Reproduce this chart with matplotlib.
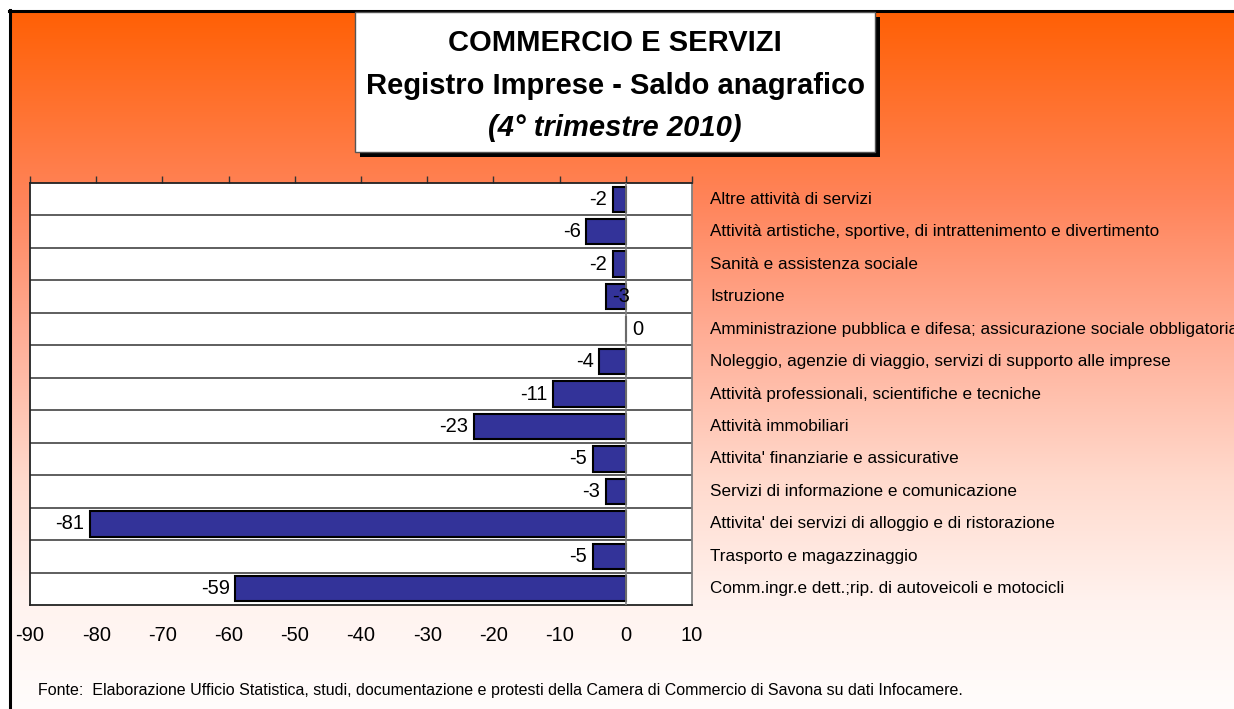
import numpy as np
import matplotlib.pyplot as plt
from matplotlib.patches import Rectangle

plt.rcParams['font.family'] = ['Liberation Sans', 'DejaVu Sans']

# dati: saldo anagrafico 4° trimestre 2010
settori = [
    "Altre attività di servizi",
    "Attività artistiche, sportive, di intrattenimento e divertimento",
    "Sanità e assistenza sociale",
    "Istruzione",
    "Amministrazione pubblica e difesa; assicurazione sociale obbligatoria",
    "Noleggio, agenzie di viaggio, servizi di supporto alle imprese",
    "Attività professionali, scientifiche e tecniche",
    "Attività immobiliari",
    "Attivita' finanziarie e assicurative",
    "Servizi di informazione e comunicazione",
    "Attivita' dei servizi di alloggio e di ristorazione",
    "Trasporto e magazzinaggio",
    "Comm.ingr.e dett.;rip. di autoveicoli e motocicli",
]
saldo = [-2, -6, -2, -3, 0, -4, -11, -23, -5, -3, -81, -5, -59]
ticks_x = [-90, -80, -70, -60, -50, -40, -30, -20, -10, 0, 10]

W, H = 1234, 709
fig = plt.figure(figsize=(W / 100, H / 100), dpi=100)
fig.patch.set_facecolor('white')

def fx(x):
    return x / W

def fy(y):
    return 1 - y / H

# sfondo sfumato arancione -> bianco
bg = fig.add_axes([fx(11), 0, 1 - fx(11), fy(12)])
bg.set_axis_off()
rows = np.arange(12, H)
stop_y = [12, 200, 330, 480, 600, 709]
stop_c = np.array([[255, 96, 5], [255, 132, 90], [255, 172, 148],
                   [255, 218, 205], [255, 242, 238], [255, 253, 252]]) / 255
grad = np.stack([np.interp(rows, stop_y, stop_c[:, k]) for k in range(3)], axis=1)
bg.imshow(grad[:, None, :], aspect='auto', extent=[0, 1, 0, 1])
bg.set_xlim(0, 1)
bg.set_ylim(0, 1)

# bordo nero
fig.add_artist(plt.Line2D([fx(9), 1], [fy(10.5), fy(10.5)], color='black', lw=2.2))
fig.add_artist(plt.Line2D([fx(9.5), fx(9.5)], [0, fy(10)], color='black', lw=2.2))

# grafico
ax = fig.add_axes([fx(30), fy(605), fx(692) - fx(30), fy(183) - fy(605)])
ax.set_facecolor('white')
y = np.arange(len(settori))
ax.barh(y, saldo, height=0.78, color='#333399', edgecolor='black', linewidth=1.5, zorder=3)
ax.set_xlim(-90, 10)
ax.set_ylim(len(settori) - 0.5, -0.5)
ax.axvline(0, color='#808080', lw=1.2, zorder=4)

ax.set_yticks(y)
ax.set_yticklabels([])
ax.set_yticks(np.arange(len(settori) - 1) + 0.5, minor=True)
ax.tick_params(axis='y', which='both', length=0)
ax.grid(True, axis='y', which='minor', color='#333333', lw=1.1, zorder=1)

ax.set_xticks(ticks_x)
ax.set_xticklabels([str(v) for v in ticks_x])
ax.tick_params(axis='x', top=True, bottom=False, labeltop=False, labelbottom=True,
               direction='out', length=5, width=1, color='#333333', labelsize=14.5, pad=10)

for s in ['top', 'bottom', 'left']:
    ax.spines[s].set_color('#222222')
    ax.spines[s].set_linewidth(1.3)
ax.spines['right'].set_color('#808080')
ax.spines['right'].set_linewidth(1.3)

# etichette valori
for i, v in enumerate(saldo):
    if v == 0:
        ax.annotate(str(v), (v, i), xytext=(5, 0), textcoords='offset points',
                    ha='left', va='center', fontsize=14.5, zorder=5)
    elif settori[i] == "Istruzione":
        ax.annotate(str(v), (v, i), xytext=(11, 0), textcoords='offset points',
                    ha='center', va='center', fontsize=14.5, zorder=5)
    else:
        ax.annotate(str(v), (v, i), xytext=(-4, 0), textcoords='offset points',
                    ha='right', va='center', fontsize=14.5, zorder=5)

# nomi dei settori a destra
for i, nome in enumerate(settori):
    ax.text(fx(710 - 30) / (fx(692) - fx(30)), i, nome,
            transform=ax.get_yaxis_transform(), ha='left', va='center', fontsize=12.3)

# riquadro del titolo con ombra
fig.add_artist(Rectangle((fx(360), fy(157)), fx(520), 140 / H, transform=fig.transFigure,
                         facecolor='black', edgecolor='none', zorder=5))
fig.add_artist(Rectangle((fx(355), fy(152)), fx(520), 140 / H, transform=fig.transFigure,
                         facecolor='white', edgecolor='#555555', lw=1, zorder=6))
fig.text(fx(615), fy(43), "COMMERCIO E SERVIZI", ha='center', va='center',
         fontsize=21, fontweight='bold', zorder=7)
fig.text(fx(615), fy(86), "Registro Imprese - Saldo anagrafico", ha='center', va='center',
         fontsize=21, fontweight='bold', zorder=7)
fig.text(fx(615), fy(128), "(4° trimestre 2010)", ha='center', va='center',
         fontsize=21, fontweight='bold', fontstyle='italic', zorder=7)

# fonte
fig.text(fx(38), fy(691), "Fonte:  Elaborazione Ufficio Statistica, studi, documentazione e protesti "
         "della Camera di Commercio di Savona su dati Infocamere.",
         ha='left', va='center', fontsize=11.5)

fig.savefig('out.png', dpi=100)
